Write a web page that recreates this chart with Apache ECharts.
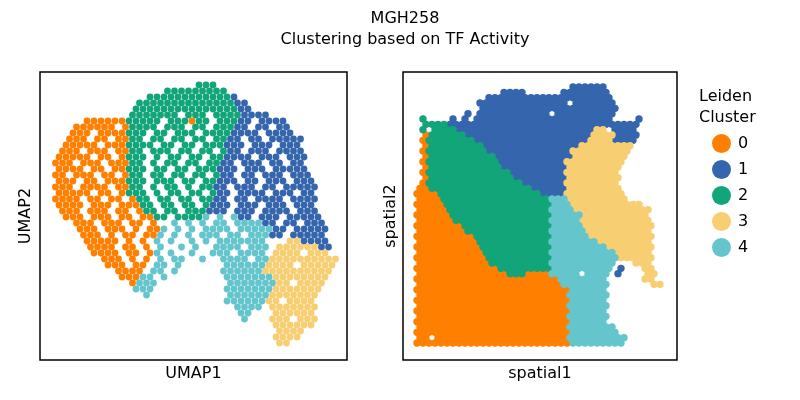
<!DOCTYPE html>
<html>
<head>
<meta charset="utf-8">
<script src="https://cdn.jsdelivr.net/npm/echarts@6/dist/echarts.min.js"></script>
<style>
  html, body { margin: 0; padding: 0; background: #fff; }
  #chart { width: 800px; height: 400px; }
</style>
</head>
<body>
<div id="chart"></div>
<script>
// cluster names and colours (legend order)
const clusters = ['0', '1', '2', '3', '4'];
const clusterColors = ['#ff7f00', '#3565ad', '#12a579', '#f7cf72', '#65c5cd'];

// UMAP cells (top row first).
// one char per cell, '.' = empty, digits = leiden cluster; '|' only groups 10 cells
const umapRows = [
  "..........|..........|.222......|..........|.",
  "..........|......2222|22222.....|..........|.",
  "..........|....222222|2222221...|..........|.",
  "..........|..22222222|22222211..|..........|.",
  "..........|..22222222|222222211.|..........|.",
  "..........|.2222222.2|22.2222111|1.........|.",
  ".....00000|022222.222|022.22211.|1111......|.",
  "...000000.|02222.222.|22.22211.1|1.11......|.",
  "...000.000|0222.22.22|2.22221111|.1111.....|.",
  "..000.00.0|022.22.22.|22.2211.11|.11111....|.",
  "..00000.00|02222.22.2|2.222111.1|11.111....|.",
  ".000.000.0|022.222.22|.22.211.11|1.1111....|.",
  ".00000.00.|0222.2.22.|22.221111.|111.111...|.",
  "000.000.00|022.2.22.2|2.2211.111|.11.11....|.",
  ".0000.00.0|0222.22.22|.222111.11|1.11111...|.",
  "00.000.00.|022.22.22.|22.211.11.|111.111...|.",
  ".000.00.00|0222.222.2|2.22111.11|.111.111..|.",
  "000.0000.0|022.2.22.2|.2211.111.|11.11111..|.",
  ".00000.00.|0222.2.22.|22.211.111|1.111.11..|.",
  "0000.00.00|.022.22.22|.2211.11.1|111.1111..|.",
  ".0000.000.|00022.22.2|2.2111.111|.111.111..|.",
  ".000.000.0|0.022.22.2|22111.111.|1111.111..|.",
  "..000.000.|00.0022.22|224.4.411.|111.11111.|.",
  "...000.000|.00.0..4.4|.4.44.4444|11.11.111.|.",
  "....000.00|0.0.004.4.|4.4444.444|4411.11111|.",
  "....000.0.|00.004.4.4|.444.44.44|411.11111.|.",
  ".....00000|.0.0.4.4..|4.4.444444|4...331111|.",
  ".....0000.|00.0.4..4.|4..4444.44|4.33333311|.",
  "......0000|.00.04.4..|4..444.444|4.3333.333|.",
  ".......000|.0.0.4.44.|.4..4444.4|4333333333|3",
  "........00|0.00.44.4.|.....44444|43333.3333|3",
  ".........0|000.44.4..|....444444|3333333333|.",
  "..........|00044.4...|.....44444|4433333333|.",
  "..........|.0444.....|.....44444|4433.3333.|.",
  "..........|..444.....|.....44444|443333333.|.",
  "..........|...4......|.....44444|43333333..|.",
  "..........|..........|.....44444|433.3333..|.",
  "..........|..........|......4444|.3333333..|.",
  "..........|..........|.......44.|..333333..|.",
  "..........|..........|.......4..|.333.333..|.",
  "..........|..........|..........|..333333..|.",
  "..........|..........|..........|..3333....|.",
  "..........|..........|..........|..3333....|.",
  "..........|..........|..........|..33......|."
];

// spatial spots: runs [firstCol, lastCol, cluster] per array row,
// listed from the top row (row 48) down to the bottom row (row 0)
const spatialRuns = [
  [[26, 31, 1]],
  [[14, 17, 1], [24, 31, 1]],
  [[12, 32, 1]],
  [[10, 24, 1], [26, 32, 1]],
  [[11, 33, 1]],
  [[8, 8, 1], [10, 21, 1], [23, 32, 1]],
  [[1, 1, 2], [6, 6, 1], [8, 8, 1], [10, 32, 1], [37, 37, 1]],
  [[1, 4, 2], [5, 36, 1]],
  [[1, 1, 2], [3, 6, 2], [7, 29, 1], [30, 31, 3], [33, 36, 1]],
  [[1, 1, 0], [2, 7, 2], [8, 28, 1], [29, 32, 3], [33, 36, 1]],
  [[1, 1, 0], [2, 9, 2], [10, 28, 1], [29, 32, 3], [33, 36, 1]],
  [[1, 1, 0], [2, 10, 2], [11, 26, 1], [27, 35, 3]],
  [[1, 1, 0], [2, 11, 2], [12, 25, 1], [26, 35, 3]],
  [[1, 1, 0], [2, 12, 2], [13, 25, 1], [26, 34, 3]],
  [[1, 1, 0], [2, 13, 2], [14, 24, 1], [25, 34, 3]],
  [[1, 1, 0], [2, 13, 2], [14, 24, 1], [25, 33, 3]],
  [[1, 1, 0], [2, 15, 2], [16, 24, 1], [25, 33, 3]],
  [[1, 1, 0], [2, 15, 2], [16, 24, 1], [25, 33, 3]],
  [[1, 1, 0], [2, 17, 2], [18, 24, 1], [25, 33, 3]],
  [[0, 1, 0], [2, 18, 2], [19, 24, 1], [25, 33, 3]],
  [[0, 3, 0], [4, 20, 2], [21, 24, 1], [25, 34, 3]],
  [[0, 3, 0], [4, 21, 2], [22, 24, 4], [25, 34, 3]],
  [[0, 4, 0], [5, 22, 2], [23, 25, 4], [26, 37, 3]],
  [[0, 4, 0], [5, 21, 2], [22, 25, 4], [26, 38, 3]],
  [[0, 5, 0], [6, 22, 2], [23, 27, 4], [28, 38, 3]],
  [[0, 5, 0], [6, 21, 2], [22, 26, 4], [27, 38, 3]],
  [[0, 7, 0], [8, 22, 2], [23, 27, 4], [28, 39, 3]],
  [[0, 7, 0], [8, 21, 2], [22, 27, 4], [28, 38, 3]],
  [[0, 9, 0], [10, 22, 2], [23, 28, 4], [29, 39, 3]],
  [[0, 9, 0], [10, 21, 2], [22, 29, 4], [30, 38, 3]],
  [[0, 10, 0], [11, 22, 2], [23, 31, 4], [32, 39, 3]],
  [[0, 10, 0], [11, 21, 2], [22, 32, 4], [33, 38, 3]],
  [[0, 11, 0], [12, 22, 2], [23, 33, 4], [34, 39, 3]],
  [[0, 11, 0], [12, 21, 2], [22, 32, 4], [36, 38, 3]],
  [[0, 13, 0], [14, 22, 2], [23, 32, 4], [34, 34, 1], [38, 39, 3]],
  [[0, 14, 0], [15, 17, 2], [18, 21, 0], [22, 26, 4], [28, 31, 4], [33, 33, 1], [38, 39, 3]],
  [[0, 23, 0], [24, 31, 4], [38, 39, 3]],
  [[0, 23, 0], [24, 31, 4], [39, 40, 3]],
  [[0, 25, 0], [26, 31, 4]],
  [[0, 24, 0], [25, 31, 4]],
  [[0, 25, 0], [26, 31, 4]],
  [[0, 24, 0], [25, 31, 4]],
  [[0, 25, 0], [26, 31, 4]],
  [[0, 24, 0], [25, 31, 4]],
  [[0, 25, 0], [26, 31, 4]],
  [[0, 24, 0], [25, 32, 4]],
  [[0, 25, 0], [26, 33, 4]],
  [[0, 1, 0], [3, 24, 0], [25, 34, 4]],
  [[0, 25, 0], [26, 34, 4]]
];

const titleText = 'MGH258\nClustering based on TF Activity';
const legendTitle = 'Leiden\nCluster';
const FONT = 'DejaVu Sans';

// build point lists per cluster (odd rows sit half a cell to the right)
const umapPts = clusters.map(() => []);
umapRows.forEach((row, r) => {
  const cells = row.replace(/\|/g, '');
  for (let c = 0; c < cells.length; c++) {
    const ch = cells[c];
    if (ch === '.') continue;
    umapPts[+ch].push([c + (r % 2) * 0.5, r]);
  }
});

const spatialPts = clusters.map(() => []);
const topRow = spatialRuns.length - 1;
spatialRuns.forEach((runs, i) => {
  const r = topRow - i;
  runs.forEach(([s, e, k]) => {
    for (let c = s; c <= e; c++) spatialPts[k].push([c + (r % 2) * 0.5, r]);
  });
});

const bareAxis = {
  type: 'value',
  axisLine: { show: false },
  axisTick: { show: false },
  axisLabel: { show: false },
  splitLine: { show: false },
  nameLocation: 'middle',
  nameTextStyle: { fontSize: 16, color: '#000', fontFamily: FONT }
};

const series = [];
clusters.forEach((name, k) => {
  series.push({
    name, type: 'scatter', xAxisIndex: 0, yAxisIndex: 0,
    data: umapPts[k], symbolSize: 6.8,
    itemStyle: { color: clusterColors[k], opacity: 1 }
  });
});
clusters.forEach((name, k) => {
  series.push({
    name, type: 'scatter', xAxisIndex: 1, yAxisIndex: 1,
    data: spatialPts[k], symbolSize: 7.4,
    itemStyle: { color: clusterColors[k], opacity: 1 }
  });
});

const chart = echarts.init(document.getElementById('chart'));
chart.setOption({
  animation: false,
  backgroundColor: '#fff',
  textStyle: { fontFamily: FONT },
  title: [
    {
      text: titleText, left: 400, top: 3, textAlign: 'center',
      textStyle: { fontSize: 16, fontWeight: 'normal', color: '#000', lineHeight: 21, fontFamily: FONT }
    },
    {
      text: legendTitle, left: 694, top: 81,
      textStyle: { fontSize: 16, fontWeight: 'normal', color: '#000', lineHeight: 21, fontFamily: FONT }
    }
  ],
  legend: {
    data: clusters,
    orient: 'vertical',
    left: 712, top: 134,
    icon: 'circle',
    itemWidth: 19, itemHeight: 19, itemGap: 7,
    padding: 0,
    textStyle: { fontSize: 16, color: '#000', fontFamily: FONT, padding: [0, 0, 0, 2] }
  },
  grid: [
    { left: 40, top: 72, width: 307, height: 288, show: true, borderColor: '#000', borderWidth: 1.5 },
    { left: 403, top: 72, width: 274, height: 288, show: true, borderColor: '#000', borderWidth: 1.5 }
  ],
  xAxis: [
    Object.assign({}, bareAxis, { gridIndex: 0, min: -12 / 7, max: 295 / 7, name: 'UMAP1', nameGap: 6 }),
    Object.assign({}, bareAxis, { gridIndex: 1, min: -14 / 6, max: 260 / 6, name: 'spatial1', nameGap: 6 })
  ],
  yAxis: [
    Object.assign({}, bareAxis, { gridIndex: 0, inverse: true, min: -13 / 6, max: 275 / 6, name: 'UMAP2', nameGap: 6 }),
    Object.assign({}, bareAxis, { gridIndex: 1, min: -17 * 3 / 16, max: 271 * 3 / 16, name: 'spatial2', nameGap: 4 })
  ],
  series
});
</script>
</body>
</html>
